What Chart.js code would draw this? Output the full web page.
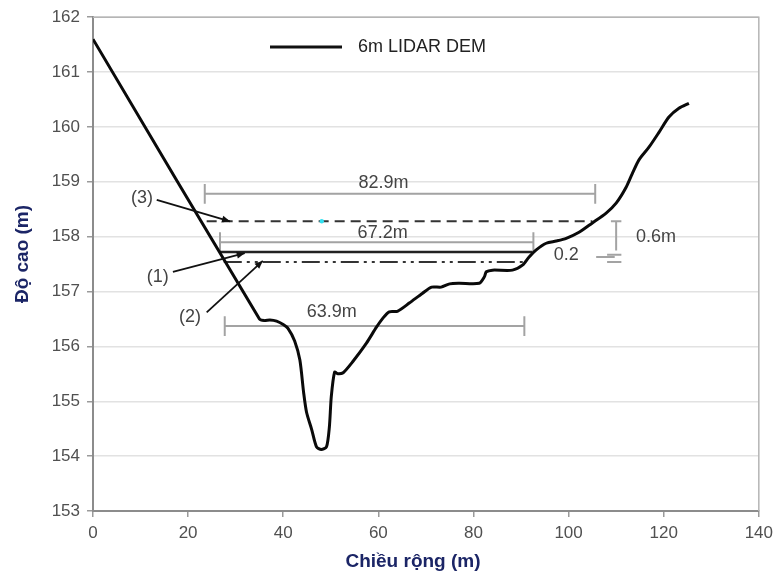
<!DOCTYPE html>
<html>
<head>
<meta charset="utf-8">
<script src="https://cdn.jsdelivr.net/npm/chart.js@4/dist/chart.umd.min.js"></script>
<style>
html,body{margin:0;padding:0;background:#fff;}
#wrap{width:779px;height:575px;}
</style>
</head>
<body>
<div id="wrap"><canvas id="c" width="779" height="575"></canvas></div>
<script>
// ---- data ----
const curveX = [0,35,36,37.2,38.6,40,41,42.4,43.5,44.3,44.9,46,47,48,49.1,49.7,50.1,50.8,51.5,52.6,54.6,57.5,59.6,61,62.3,64,66.5,69.3,71.2,73.2,75,77,81.2,82.3,82.7,84,88.2,90.3,91.7,93.2,95.3,97.4,99.5,102.2,105,107.9,110,112.1,113.4,114.8,116.9,119,121.1,123.2,125.3];
const curveY = [161.6,156.5,156.47,156.48,156.46,156.4,156.33,156.1,155.75,155.15,154.8,154.48,154.17,154.12,154.17,154.53,155.08,155.53,155.5,155.52,155.72,156.06,156.35,156.52,156.63,156.64,156.79,156.97,157.08,157.08,157.14,157.15,157.15,157.27,157.36,157.39,157.39,157.48,157.63,157.76,157.88,157.92,157.97,158.08,158.25,158.43,158.61,158.9,159.15,159.4,159.63,159.9,160.18,160.34,160.43];

// water levels: [xStart, xEnd], elevation
const level3X = [23.9,105]; const level3Y = 158.28;   // dashed
const level1X = [26.7,92.4]; const level1Y = 157.72;  // solid
const level2X = [27.5,91];   const level2Y = 157.54;  // dash-dot

// width dimensions
const widthLabels = ["82.9m","67.2m","63.9m"];
const widthStart  = [23.5,26.7,27.7];
const widthEnd    = [105.6,92.6,90.7];
const widthLevel  = [158.78,157.9,156.37];

// depth dimensions
const depthLabels = ["0.6m","0.2"];

const xTicks = [0,20,40,60,80,100,120,140];
const yTicks = [153,154,155,156,157,158,159,160,161,162];
const legendLabel = "6m LIDAR DEM";
const xTitle = "Chiều rộng (m)";
const yTitle = "Độ cao (m)";
const levelLabels = ["(3)","(1)","(2)"];

// ---- build datasets ----
const curve = curveX.map((x,i)=>({x:x,y:curveY[i]}));
const seg = (xs,y)=>[{x:xs[0],y:y},{x:xs[1],y:y}];

// gray dimension lines with caps, broken by nulls
const capH = 0.18;
const dimPts = [];
widthStart.forEach((s,i)=>{
  const e = widthEnd[i], y = widthLevel[i];
  dimPts.push({x:s,y:y},{x:e,y:y},{x:e,y:null});
  dimPts.push({x:s,y:y-capH},{x:s,y:y+capH},{x:s,y:null});
  dimPts.push({x:e,y:y-capH},{x:e,y:y+capH},{x:e,y:null});
});
// vertical 0.6 m dimension
const dX = 110;
dimPts.push({x:dX,y:level3Y},{x:dX,y:level1Y+0.03},{x:dX,y:null});
dimPts.push({x:dX-1.1,y:level3Y},{x:dX+1.1,y:level3Y},{x:dX,y:null});
dimPts.push({x:dX-1.9,y:level1Y-0.05},{x:dX+1.1,y:level1Y-0.05},{x:dX,y:null});
dimPts.push({x:dX-1.9,y:level2Y},{x:dX+1.1,y:level2Y},{x:dX,y:null});
dimPts.push({x:dX-4.2,y:(level1Y+level2Y)/2},{x:dX-0.3,y:(level1Y+level2Y)/2},{x:dX,y:null});

const annotations = {
  widthText: [[61.1,158.98],[60.9,158.06],[50.2,156.63]],
  depthText: [[118.4,158.0],[99.5,157.66]],
  levelText: [[10.3,158.7],[13.6,157.26],[20.4,156.54]],
  arrows: [[[13.4,158.67],[28.8,158.28]],[[16.8,157.36],[31.9,157.7]],[[23.9,156.62],[35.7,157.56]]]
};

const F = "'Liberation Sans', Arial, sans-serif";

const overlay = {
  id:'overlay',
  afterDraw(chart){
    const ctx = chart.ctx, xs = chart.scales.x, ys = chart.scales.y, a = chart.chartArea;
    const px = v=>xs.getPixelForValue(v), py = v=>ys.getPixelForValue(v);
    ctx.save();
    // top/right border
    ctx.strokeStyle = '#b5b5b5'; ctx.lineWidth = 1.5;
    ctx.beginPath(); ctx.moveTo(a.left,a.top); ctx.lineTo(a.right,a.top); ctx.lineTo(a.right,a.bottom); ctx.stroke();
    // legend
    ctx.strokeStyle = '#111'; ctx.lineWidth = 3.2;
    ctx.beginPath(); ctx.moveTo(270,47); ctx.lineTo(342,47); ctx.stroke();
    ctx.fillStyle = '#222'; ctx.font = '18px '+F; ctx.textBaseline='middle'; ctx.textAlign='left';
    ctx.fillText(legendLabel, 358, 47);
    // axis titles
    ctx.fillStyle = '#1b2566'; ctx.font = 'bold 19px '+F; ctx.textAlign='center';
    ctx.fillText(xTitle, 413, 562);
    ctx.save(); ctx.translate(23, 254); ctx.rotate(-Math.PI/2); ctx.fillText(yTitle, 0, 0); ctx.restore();
    // annotation text
    ctx.fillStyle = '#444'; ctx.font = '18px '+F; ctx.textAlign='center';
    widthLabels.forEach((t,i)=>ctx.fillText(t, px(annotations.widthText[i][0]), py(annotations.widthText[i][1])));
    depthLabels.forEach((t,i)=>ctx.fillText(t, px(annotations.depthText[i][0]), py(annotations.depthText[i][1])));
    levelLabels.forEach((t,i)=>ctx.fillText(t, px(annotations.levelText[i][0]), py(annotations.levelText[i][1])));
    // arrows
    ctx.strokeStyle = '#111'; ctx.fillStyle = '#111'; ctx.lineWidth = 1.8;
    annotations.arrows.forEach(ar=>{
      const x1=px(ar[0][0]), y1=py(ar[0][1]), x2=px(ar[1][0]), y2=py(ar[1][1]);
      ctx.beginPath(); ctx.moveTo(x1,y1); ctx.lineTo(x2,y2); ctx.stroke();
      const ang = Math.atan2(y2-y1,x2-x1), L=8, W=3.5;
      ctx.beginPath(); ctx.moveTo(x2,y2);
      ctx.lineTo(x2-L*Math.cos(ang)+W*Math.sin(ang), y2-L*Math.sin(ang)-W*Math.cos(ang));
      ctx.lineTo(x2-L*Math.cos(ang)-W*Math.sin(ang), y2-L*Math.sin(ang)+W*Math.cos(ang));
      ctx.closePath(); ctx.fill();
    });
    ctx.restore();
  }
};

new Chart(document.getElementById('c'), {
  type:'scatter',
  data:{datasets:[
    {label:'dims', data:dimPts, showLine:true, spanGaps:false, borderColor:'#a3a3a3', borderWidth:2, pointRadius:0, order:5},
    {label:'level3', data:seg(level3X,level3Y), showLine:true, borderColor:'#333', borderWidth:2, borderDash:[10,6], pointRadius:0, order:4},
    {label:'level1', data:seg(level1X,level1Y), showLine:true, borderColor:'#222', borderWidth:2.5, pointRadius:0, order:4},
    {label:'level2', data:seg(level2X,level2Y), showLine:true, borderColor:'#333', borderWidth:2, borderDash:[18,5,3,5,3,5], pointRadius:0, order:4},
    {label:'dot', data:[{x:48.1,y:158.28}], showLine:false, pointRadius:2.2, pointBackgroundColor:'#33e0f0', pointBorderWidth:0, order:3},
    {label:legendLabel, data:curve, showLine:true, borderColor:'#0a0a0a', borderWidth:3, pointRadius:0, tension:0.25, order:1}
  ]},
  options:{
    responsive:false, animation:false, devicePixelRatio:1,
    layout:{padding:{left:0,right:19,top:17,bottom:0}},
    plugins:{legend:{display:false}, tooltip:{enabled:false}},
    scales:{
      x:{type:'linear', min:0, max:140,
        afterBuildTicks(s){ s.ticks = xTicks.map(v=>({value:v})); },
        afterFit(s){ s.height = 64; },
        grid:{drawOnChartArea:false, drawTicks:true, tickLength:6, tickColor:'#9a9a9a', lineWidth:1.5},
        border:{color:'#8c8c8c', width:2},
        ticks:{color:'#505050', font:{family:F, size:17}, padding:6, maxRotation:0}
      },
      y:{type:'linear', min:153, max:162,
        afterBuildTicks(s){ s.ticks = yTicks.map(v=>({value:v})); },
        afterFit(s){ s.width = 93; },
        grid:{color:'#e2e2e2', lineWidth:1.5, drawTicks:true, tickLength:6, tickColor:'#9a9a9a'},
        border:{color:'#8c8c8c', width:2},
        ticks:{color:'#505050', font:{family:F, size:17}, padding:7}
      }
    }
  },
  plugins:[overlay]
});
</script>
</body>
</html>
